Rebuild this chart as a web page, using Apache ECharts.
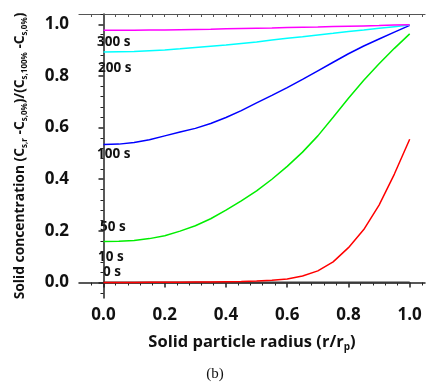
<!DOCTYPE html>
<html><head><meta charset="utf-8">
<script src="https://cdn.jsdelivr.net/npm/echarts@6/dist/echarts.min.js"></script>
<style>html,body{margin:0;padding:0;background:#fff}#c{width:430px;height:387px}</style>
</head><body><div id="c"></div>
<script>
// ---- data ----
const radius = [0,0.05,0.1,0.15,0.2,0.25,0.3,0.35,0.4,0.45,0.5,0.55,0.6,0.65,0.7,0.75,0.8,0.85,0.9,0.95,1.0];
const s0   = [0,0,0,0,0,0,0,0,0,0,0,0,0,0,0,0,0,0,0,0,0];
const s10  = [0.000,0.000,0.000,0.001,0.001,0.001,0.002,0.002,0.003,0.004,0.006,0.009,0.014,0.025,0.045,0.080,0.135,0.205,0.300,0.420,0.555];
const s50  = [0.159,0.160,0.163,0.170,0.181,0.199,0.220,0.247,0.280,0.316,0.355,0.400,0.450,0.505,0.568,0.640,0.714,0.783,0.847,0.907,0.963];
const s100 = [0.535,0.536,0.542,0.553,0.568,0.583,0.597,0.616,0.639,0.666,0.696,0.725,0.755,0.787,0.820,0.853,0.886,0.916,0.943,0.970,0.996];
const s200 = [0.893,0.894,0.895,0.898,0.901,0.905,0.910,0.915,0.920,0.926,0.932,0.939,0.946,0.952,0.959,0.965,0.972,0.978,0.985,0.991,0.997];
const s300 = [0.977,0.977,0.977,0.978,0.978,0.979,0.980,0.981,0.983,0.984,0.985,0.986,0.988,0.989,0.990,0.992,0.993,0.994,0.995,0.997,0.998];
const seriesNames = ['0 s','10 s','50 s','100 s','200 s','300 s'];
const xMajorTicks = [0,0.2,0.4,0.6,0.8,1.0];
const xMinorTicks = [-0.04,0.04,0.08,0.12,0.16,0.24,0.28,0.32,0.36,0.44,0.48,0.52,0.56,0.64,0.68,0.72,0.76,0.84,0.88,0.92,0.96,1.04];
const yMajorTicks = [0,0.2,0.4,0.6,0.8,1.0];
const yMinorTicks = [-0.04,0.04,0.08,0.12,0.16,0.24,0.28,0.32,0.36,0.44,0.48,0.52,0.56,0.64,0.68,0.72,0.76,0.84,0.88,0.92,0.96,1.04];

const F = '"Open Sans", "Noto Sans", sans-serif';
const pair = arr => radius.map((r,i)=>[r,arr[i]]);
const colors = ['#3a3a3a','#ff0000','#00ee00','#0000ff','#00ffff','#ff00ff'];
const values = [s0,s10,s50,s100,s200,s300];

const chart = echarts.init(document.getElementById('c'), null, {renderer:'canvas'});
const xBase = {type:'value', min:-0.08, max:1.05, splitLine:{show:false}};
const yBase = {type:'value', min:-0.06, max:1.04, splitLine:{show:false}};
const option = {
  animation:false,
  grid:{left:79, right:5, top:14, bottom:89, containLabel:false},
  xAxis:[
    Object.assign({}, xBase, {position:'bottom',
      axisLine:{show:true, lineStyle:{color:'#222', width:1.5}},
      axisTick:{show:true, inside:false, length:5, customValues:xMajorTicks, lineStyle:{color:'#222', width:1.5}},
      axisLabel:{show:true, customValues:xMajorTicks, margin:9, color:'#111', fontFamily:F, fontWeight:'bold', fontSize:17, formatter:v=>v.toFixed(1)},
      name:'{m|Solid particle radius (r/r}{s|p}{m|)}', nameLocation:'middle', nameGap:35,
      nameTextStyle:{rich:{m:{fontFamily:F,fontWeight:'bold',fontSize:16.5,color:'#111',lineHeight:19},
                           s:{fontFamily:F,fontWeight:'bold',fontSize:10,color:'#111',lineHeight:4,verticalAlign:'bottom'}}}
    }),
    Object.assign({}, xBase, {position:'bottom',
      axisLine:{show:false},
      axisTick:{show:true, inside:false, length:3, customValues:xMinorTicks, lineStyle:{color:'#222', width:1}},
      axisLabel:{show:false}}),
    Object.assign({}, xBase, {position:'top',
      axisLine:{show:true, lineStyle:{color:'#555', width:1.2}},
      axisTick:{show:true, inside:true, length:3, customValues:xMinorTicks.concat(xMajorTicks), lineStyle:{color:'#555', width:1}},
      axisLabel:{show:false}})
  ],
  yAxis:[
    Object.assign({}, yBase, {position:'left',
      axisLine:{show:true, lineStyle:{color:'#222', width:1.5}},
      axisTick:{show:true, inside:false, length:5, customValues:yMajorTicks, lineStyle:{color:'#222', width:1.5}},
      axisLabel:{show:true, customValues:yMajorTicks, margin:10, color:'#111', fontFamily:F, fontWeight:'bold', fontSize:17, formatter:v=>v.toFixed(1)},
      name:'{m|Solid concentration (C}{s|s,r}{m| -C}{s|s,0%}{m|)/(C}{s|s,100%}{m| -C}{s|s,0%}{m|)}',
      nameLocation:'middle', nameGap:50,
      nameTextStyle:{rich:{m:{fontFamily:F,fontWeight:'bold',fontSize:13.8,color:'#111',lineHeight:17},
                           s:{fontFamily:F,fontWeight:'bold',fontSize:8,color:'#111',lineHeight:4,verticalAlign:'bottom'}}}
    }),
    Object.assign({}, yBase, {position:'left',
      axisLine:{show:false},
      axisTick:{show:true, inside:false, length:3, customValues:yMinorTicks, lineStyle:{color:'#222', width:1}},
      axisLabel:{show:false}})
  ],
  series: values.map((v,i)=>({
    name:seriesNames[i], type:'line', data:pair(v), xAxisIndex:0, yAxisIndex:0,
    showSymbol:false, symbol:'none', smooth:false,
    lineStyle:{color:colors[i], width: i===0?2:1.5}, z:2+i
  })),
  graphic:[
    {type:'text', left:97, top:35, style:{text:'300 s', font:'bold 13.5px '+F, fill:'#111'}},
    {type:'text', left:98, top:61, style:{text:'200 s', font:'bold 13.5px '+F, fill:'#111'}},
    {type:'text', left:97, top:147, style:{text:'100 s', font:'bold 13.5px '+F, fill:'#111'}},
    {type:'text', left:100, top:220, style:{text:'50 s', font:'bold 13.5px '+F, fill:'#111'}},
    {type:'text', left:98, top:250, style:{text:'10 s', font:'bold 13.5px '+F, fill:'#111'}},
    {type:'text', left:103, top:265, style:{text:'0 s', font:'bold 13.5px '+F, fill:'#111'}},
    {type:'text', left:'center', top:367, style:{text:'(b)', font:'15px "Liberation Serif", "DejaVu Serif", serif', fill:'#111'}}
  ]
};
chart.setOption(option);
</script>
</body></html>
